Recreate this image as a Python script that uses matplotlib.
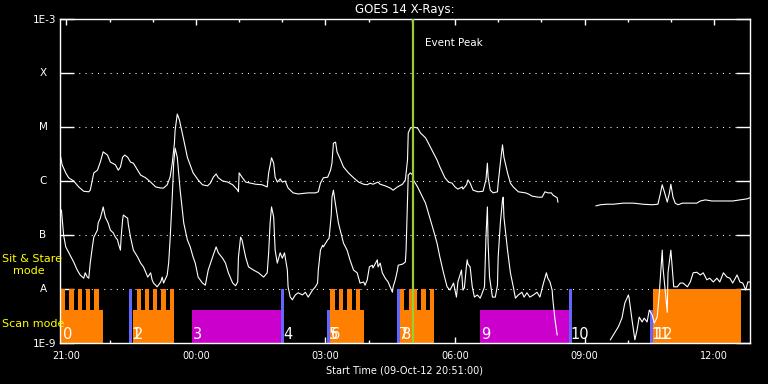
"""
GOES 14 X-ray flux with the observing mode strip
"""
import numpy as np
import matplotlib
matplotlib.use('Agg')
import matplotlib.pyplot as plt
import matplotlib.transforms as mtransforms
from matplotlib.ticker import NullLocator

# time in minutes after 21:00 (plot starts 20:51), flux as log10(W/m^2)
long_t = [
    -8, -6, -1, 3, 10, 17, 24, 31, 33, 36,
    38, 43, 47, 51, 57, 61, 68, 72, 75, 78,
    81, 85, 89, 93, 99, 103, 110, 117, 124, 131,
    135, 140, 144, 147, 150, 151, 154, 157, 163, 168,
    176, 183, 189, 196, 200, 204, 208, 211, 217, 224,
    231, 238, 239, 240, 244, 249, 256, 263, 272, 279,
    281, 285, 288, 290, 293, 297, 300, 304, 308, 315,
    322, 336, 346, 350, 353, 357, 363, 367, 369, 371,
    374, 376, 381, 385, 392, 399, 406, 413, 418, 422,
    426, 433, 436, 443, 450, 454, 460, 467, 471, 474,
    475, 478, 482, 488, 492, 499, 503, 510, 515, 519,
    526, 531, 536, 540, 544, 550, 551, 556, 558, 561,
    565, 572, 579, 583, 585, 586, 589, 593, 599, 600,
    603, 606, 608, 613, 617, 621, 628, 638, 642, 647,
    656, 661, 665, 669, 674, 676, 682, 683, 710, 736,
    742, 751, 760, 774, 788, 801, 814, 822, 825, 828,
    831, 835, 838, 840, 843, 846, 850, 856, 863, 876,
    881, 888, 897, 908, 918, 926, 936, 946, 950,
]
long_log = [
    -5.56, -5.70, -5.85, -5.94, -6.00, -6.11, -6.19, -6.20, -6.17, -5.98,
    -5.85, -5.80, -5.65, -5.46, -5.52, -5.65, -5.70, -5.80, -5.74, -5.56,
    -5.52, -5.56, -5.65, -5.67, -5.80, -5.89, -5.94, -6.02, -6.11, -6.13,
    -6.13, -6.07, -5.93, -5.67, -5.30, -5.06, -4.76, -4.87, -5.24, -5.56,
    -5.85, -5.98, -6.07, -6.09, -6.04, -5.93, -5.87, -5.94, -6.00, -6.02,
    -6.07, -6.17, -6.20, -5.85, -5.93, -6.02, -6.04, -6.06, -6.07, -6.11,
    -5.85, -5.57, -5.67, -5.93, -6.02, -5.96, -6.02, -6.00, -6.13, -6.22,
    -6.24, -6.22, -6.22, -6.20, -6.04, -5.94, -5.93, -5.80, -5.67, -5.30,
    -5.28, -5.46, -5.61, -5.74, -5.85, -5.94, -6.02, -6.06, -6.07, -6.04,
    -6.06, -6.02, -6.06, -6.09, -6.13, -6.17, -6.11, -6.06, -5.98, -5.61,
    -5.11, -5.02, -5.00, -5.02, -5.11, -5.20, -5.30, -5.48, -5.61, -5.74,
    -5.94, -6.02, -6.04, -6.11, -6.15, -6.11, -6.15, -6.07, -5.98, -6.04,
    -6.17, -6.20, -6.19, -5.98, -5.67, -5.93, -6.17, -6.22, -6.20, -6.04,
    -5.67, -5.33, -5.56, -5.85, -6.04, -6.11, -6.20, -6.22, -6.24, -6.28,
    -6.30, -6.30, -6.20, -6.22, -6.22, -6.26, -6.31, -6.39, np.nan, -6.46,
    -6.44, -6.43, -6.43, -6.41, -6.41, -6.43, -6.44, -6.43, -6.26, -6.07,
    -6.20, -6.39, -6.22, -6.06, -6.30, -6.41, -6.44, -6.41, -6.41, -6.41,
    -6.37, -6.35, -6.37, -6.37, -6.37, -6.37, -6.35, -6.33, -6.31,
]

short_t = [
    -7, -4, -1, 10, 15, 19, 24, 26, 29, 31,
    33, 36, 38, 43, 44, 47, 50, 51, 54, 58,
    61, 65, 68, 71, 72, 75, 76, 78, 79, 85,
    86, 89, 93, 99, 103, 107, 113, 117, 119, 121,
    124, 126, 131, 133, 135, 140, 142, 144, 147, 149,
    151, 154, 158, 163, 168, 172, 176, 179, 183, 189,
    193, 197, 203, 208, 211, 217, 221, 225, 231, 235,
    238, 239, 242, 244, 249, 253, 260, 267, 274, 279,
    281, 283, 285, 288, 290, 293, 297, 300, 303, 307,
    308, 311, 314, 318, 322, 328, 332, 336, 342, 346,
    349, 350, 353, 356, 357, 363, 365, 368, 369, 371,
    374, 378, 383, 385, 390, 394, 399, 404, 408, 413,
    415, 418, 421, 425, 426, 432, 433, 436, 439, 443,
    447, 453, 454, 457, 460, 461, 467, 471, 472, 474,
    475, 478, 481, 482, 488, 492, 499, 503, 510, 515,
    519, 524, 529, 533, 538, 542, 544, 549, 551, 553,
    556, 557, 558, 561, 564, 567, 571, 575, 578, 581,
    583, 585, 586, 588, 592, 596, 599, 600, 603, 606,
    607, 608, 613, 617, 621, 624, 628, 633, 636, 640,
    644, 649, 654, 658, 663, 667, 669, 672, 675, 676,
    679, 682, 720, 756, 767, 772, 776, 781, 782, 786,
    790, 793, 796, 800, 803, 807, 810, 814, 817, 821,
    824, 828, 829, 832, 835, 836, 840, 843, 844, 849,
    853, 857, 863, 867, 871, 876, 881, 885, 890, 894,
    899, 904, 908, 913, 918, 922, 926, 932, 936, 940,
    944, 947, 950,
]
short_log = [
    -6.54, -7.00, -7.22, -7.50, -7.65, -7.74, -7.80, -7.70, -7.78, -7.80,
    -7.52, -7.22, -7.04, -6.91, -6.78, -6.69, -6.54, -6.48, -6.67, -6.78,
    -6.91, -6.96, -7.04, -7.09, -7.15, -7.28, -7.04, -6.72, -6.63, -6.69,
    -6.81, -7.04, -7.28, -7.41, -7.52, -7.59, -7.78, -7.70, -7.83, -7.89,
    -7.93, -7.96, -7.87, -7.78, -7.89, -7.74, -7.52, -7.09, -6.30, -5.67,
    -5.39, -5.56, -6.17, -6.78, -7.09, -7.22, -7.41, -7.52, -7.78, -7.89,
    -7.93, -7.65, -7.41, -7.22, -7.33, -7.43, -7.52, -7.70, -7.89, -7.94,
    -7.87, -7.41, -7.04, -7.09, -7.41, -7.59, -7.65, -7.70, -7.78, -7.70,
    -7.33, -6.78, -6.48, -6.67, -7.28, -7.52, -7.33, -7.43, -7.33, -7.65,
    -7.96, -8.15, -8.20, -8.11, -8.07, -8.11, -8.06, -8.15, -8.02, -7.96,
    -7.89, -7.65, -7.28, -7.19, -7.22, -7.09, -7.06, -6.63, -6.30, -6.17,
    -6.44, -6.78, -7.04, -7.15, -7.28, -7.46, -7.65, -7.70, -7.89, -7.87,
    -7.93, -7.83, -7.59, -7.56, -7.61, -7.46, -7.59, -7.52, -7.70, -7.80,
    -7.87, -8.06, -7.96, -7.83, -7.65, -7.56, -7.54, -7.50, -7.28, -6.35,
    -5.89, -5.85, -5.89, -5.98, -6.11, -6.22, -6.41, -6.59, -6.91, -7.15,
    -7.41, -7.70, -7.96, -8.02, -7.89, -8.15, -7.87, -7.65, -8.02, -7.98,
    -7.56, -7.46, -7.54, -7.59, -7.96, -8.15, -8.11, -8.17, -8.07, -7.96,
    -7.04, -6.48, -7.15, -7.78, -8.15, -8.15, -7.93, -7.41, -6.78, -6.35,
    -6.30, -6.67, -7.28, -7.70, -7.96, -8.17, -8.11, -8.06, -8.15, -8.07,
    -8.15, -8.11, -8.06, -8.15, -7.89, -7.70, -7.80, -7.87, -8.02, -8.20,
    -8.57, -8.85, np.nan, -8.94, -8.70, -8.54, -8.26, -8.11, -8.17, -8.57,
    -8.94, -8.76, -8.52, -8.61, -8.54, -8.61, -8.39, -8.48, -8.63, -8.52,
    -8.07, -7.28, -7.59, -8.02, -8.43, -7.70, -7.28, -7.78, -7.96, -7.96,
    -7.89, -7.89, -7.96, -7.87, -7.70, -7.69, -7.74, -7.70, -7.83, -7.80,
    -7.87, -7.80, -7.87, -7.70, -7.78, -7.80, -7.89, -7.74, -7.87, -7.89,
    -8.02, -7.87, -7.87,
]

# flare classes
class_levels = [1e-8, 1e-7, 1e-6, 1e-5, 1e-4]
class_names = ['A', 'B', 'C', 'M', 'X']

# observing modes, (start, end) in minutes after 21:00
scan_blocks = [(-7, 51), (92, 150), (366, 414), (464, 511)]
stare_blocks = [
    (-7, -1.4), (4.2, 10.2), (15.7, 21.8), (27.4, 33.3), (38.9, 44.9),
    (97.6, 103.2), (108.8, 114.8), (120.4, 126.4), (131.9, 137.9), (143.5, 150),
    (366.7, 373.2), (378.8, 384.7), (390.3, 396.8), (401.8, 408.3),
    (463.5, 469.4), (475.4, 487.1), (492.6, 499.0), (504.6, 510.7),
    (815, 937),
]
raster_blocks = [(174, 299), (575, 699)]
slew_full = [(87.5, 91.7), (298.6, 302.4), (459.7, 463.5), (698.6, 702.4)]
slew_short = [(362.5, 366.2), (811.1, 814.9)]
seg_starts = [-7, 88, 92, 174, 299, 363, 366, 460, 464, 575, 699, 811, 815]

peak_t = 482
STARE_TOP = 1e-8
SCAN_TOP = 4.1e-9
FLOOR = 1e-9


def draw_blocks(ax, blocks, top, color):
    starts = [b[0] for b in blocks]
    widths = [b[1] - b[0] for b in blocks]
    ax.bar(starts, [top - FLOOR] * len(blocks), width=widths, bottom=FLOOR,
           align='edge', color=color, linewidth=0, zorder=2)


fig = plt.figure(figsize=(7.68, 3.84), dpi=100, facecolor='black')
ax = fig.add_axes([60 / 768, 41 / 384, 690 / 768, 324 / 384])
ax.set_facecolor('black')

for lvl in class_levels:
    ax.axhline(lvl, color='white', lw=0.75, linestyle=(0, (1, 5)), zorder=1)

draw_blocks(ax, scan_blocks, SCAN_TOP, '#ff8000')
draw_blocks(ax, stare_blocks, STARE_TOP, '#ff8000')
draw_blocks(ax, raster_blocks, SCAN_TOP, '#cc00cc')
draw_blocks(ax, slew_full, STARE_TOP, '#6464ff')
draw_blocks(ax, slew_short, SCAN_TOP, '#6464ff')

ax.plot(long_t, 10 ** np.array(long_log), color='white', lw=0.8, zorder=3)
ax.plot(short_t, 10 ** np.array(short_log), color='white', lw=0.8, zorder=3)

ax.axvline(peak_t, color='#9acd32', lw=1.6, zorder=4)
ax.annotate('Event Peak', xy=(peak_t, 3.6e-4), xytext=(8.5, 0),
            textcoords='offset points', color='white', fontsize=7.5,
            va='center', ha='left')

for i, t in enumerate(seg_starts):
    ax.annotate(str(i), xy=(t, FLOOR), xytext=(1, 3), textcoords='offset points',
                color='white', fontsize=10.5, va='baseline', ha='left', zorder=5)

ax.set_yscale('log')
ax.set_ylim(1e-9, 1e-3)
ax.set_xlim(-9, 950)

ax.set_yticks([1e-9] + class_levels + [1e-3])
ax.set_yticklabels(['1E-9', '', '', '', '', '', '1E-3'])
ax.yaxis.set_minor_locator(NullLocator())
ax.tick_params(axis='y', which='major', direction='in', length=10, width=1,
               right=True, color='white', labelcolor='white', labelsize=7.5, pad=2.5)

trans = mtransforms.blended_transform_factory(ax.transAxes, ax.transData)
for lvl, name in zip(class_levels, class_names):
    ax.text(-17 / 690, lvl, name, transform=trans, color='white', fontsize=7.5,
            ha='center', va='center')

ax.set_xticks([0, 180, 360, 540, 720, 900])
ax.set_xticklabels(['21:00', '00:00', '03:00', '06:00', '09:00', '12:00'])
ax.set_xticks(list(range(0, 950, 60)), minor=True)
ax.tick_params(axis='x', which='major', direction='in', length=4.5, width=1,
               top=True, color='white', labelcolor='white', labelsize=7, pad=6)
ax.tick_params(axis='x', which='minor', direction='in', length=2.5, width=1,
               top=True, color='white')

for spine in ax.spines.values():
    spine.set_color('white')
    spine.set_linewidth(1)

ax.set_title('GOES 14 X-Rays:', color='white', fontsize=8.5, pad=4)
ax.set_xlabel('Start Time (09-Oct-12 20:51:00)', color='white', fontsize=7, labelpad=3)

fig.text(2 / 768, 1 - 259 / 384, 'Sit & Stare', color='#ffff00', fontsize=8, va='center')
fig.text(13 / 768, 1 - 271 / 384, 'mode', color='#ffff00', fontsize=8, va='center')
fig.text(2 / 768, 1 - 324 / 384, 'Scan mode', color='#ffff00', fontsize=8, va='center')

fig.savefig('out.png', dpi=100, facecolor='black')
